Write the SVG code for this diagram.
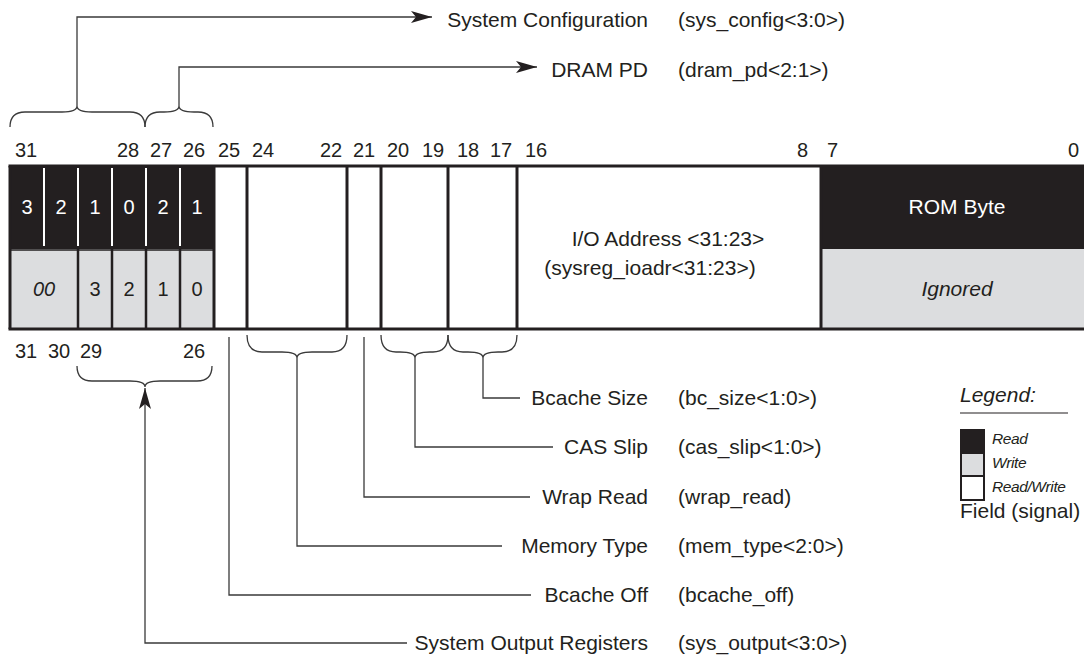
<svg xmlns="http://www.w3.org/2000/svg" width="1084" height="659" viewBox="0 0 1084 659">
<defs>
<style>
text{font-family:"Liberation Sans",Arial,sans-serif;fill:#231f20;}
.t{font-size:21px;}
.n{font-size:20px;}
.w{fill:#ffffff;}
.i{font-style:italic;}
.blk{fill:#231f20;}
.gry{fill:#dcdddf;}
.div{stroke:#231f20;stroke-width:3;fill:none;}
.wd{stroke:#ffffff;stroke-width:2;}
.gd{stroke:#231f20;stroke-width:2.5;}
.c{stroke:#3a3a3a;stroke-width:1.3;fill:none;}
.lg{font-size:15.5px;font-style:italic;letter-spacing:-0.4px;}
</style>
<marker id="ar" markerUnits="userSpaceOnUse" markerWidth="22" markerHeight="12" refX="21" refY="6" orient="auto">
<path d="M0,0 L21,6 L0,12 L5,6 Z" fill="#231f20"/>
</marker>
</defs>

<g id="register">
<rect class="blk" x="10" y="166" width="204" height="83"/>
<rect class="gry" x="10" y="249" width="204" height="80"/>
<rect class="blk" x="821" y="166" width="263" height="83"/>
<rect class="gry" x="821" y="249" width="263" height="80"/>
<g class="wd">
<line x1="44" y1="168" x2="44" y2="246"/>
<line x1="78" y1="168" x2="78" y2="246"/>
<line x1="112" y1="168" x2="112" y2="246"/>
<line x1="146" y1="168" x2="146" y2="246"/>
<line x1="180" y1="168" x2="180" y2="246"/>
</g>
<g class="gd">
<line x1="78" y1="249" x2="78" y2="329"/>
<line x1="112" y1="249" x2="112" y2="329"/>
<line x1="146" y1="249" x2="146" y2="329"/>
<line x1="180" y1="249" x2="180" y2="329"/>
<line x1="10" y1="250" x2="214" y2="250" stroke-width="1.5"/>
</g>
<g class="div">
<line x1="8.5" y1="166" x2="1084" y2="166"/>
<line x1="8.5" y1="329" x2="1084" y2="329"/>
<line x1="10" y1="166" x2="10" y2="329"/>
<line x1="214" y1="166" x2="214" y2="329"/>
<line x1="247" y1="166" x2="247" y2="329"/>
<line x1="347" y1="166" x2="347" y2="329"/>
<line x1="381" y1="166" x2="381" y2="329"/>
<line x1="448" y1="166" x2="448" y2="329"/>
<line x1="517" y1="166" x2="517" y2="329"/>
<line x1="821" y1="166" x2="821" y2="329"/>
</g>
<g class="n w" text-anchor="middle">
<text x="27" y="214" class="w">3</text>
<text x="61" y="214" class="w">2</text>
<text x="95" y="214" class="w">1</text>
<text x="129" y="214" class="w">0</text>
<text x="163" y="214" class="w">2</text>
<text x="197" y="214" class="w">1</text>
</g>
<g class="n" text-anchor="middle">
<text x="44" y="296" class="i">00</text>
<text x="95" y="296">3</text>
<text x="129" y="296">2</text>
<text x="163" y="296">1</text>
<text x="197" y="296">0</text>
</g>
<text class="t w" x="957" y="214" text-anchor="middle">ROM Byte</text>
<text class="t i" x="957" y="296" text-anchor="middle">Ignored</text>
<text class="t" x="668" y="246" text-anchor="middle">I/O Address &lt;31:23&gt;</text>
<text class="t" x="650" y="275" text-anchor="middle">(sysreg_ioadr&lt;31:23&gt;)</text>
</g>

<g id="bit-numbers" class="n">
<text x="15" y="157">31</text>
<text x="117" y="157">28</text>
<text x="150" y="157">27</text>
<text x="183" y="157">26</text>
<text x="218" y="157">25</text>
<text x="252" y="157">24</text>
<text x="320" y="157">22</text>
<text x="353" y="157">21</text>
<text x="387" y="157">20</text>
<text x="422" y="157">19</text>
<text x="457" y="157">18</text>
<text x="490" y="157">17</text>
<text x="525" y="157">16</text>
<text x="797" y="157">8</text>
<text x="827" y="157">7</text>
<text x="1068" y="157">0</text>
<text x="15" y="358">31</text>
<text x="48" y="358">30</text>
<text x="80" y="358">29</text>
<text x="183" y="358">26</text>
</g>

<g id="connectors">
<path class="c" d="M10,127 Q10,112 25,112 L62,112 Q77,112 77,106 Q77,112 92,112 L130,112 Q145,112 145,127"/>
<path class="c" d="M145,127 Q145,112 160,112 L164,112 Q179,112 179,106 Q179,112 194,112 L198,112 Q213,112 213,127"/>
<path class="c" d="M77,106 V17 H432" marker-end="url(#ar)"/>
<path class="c" d="M179,106 V67 H537" marker-end="url(#ar)"/>
<path class="c" d="M247,335 Q247,352 262,352 L282,352 Q297,352 297,358 Q297,352 312,352 L332,352 Q347,352 347,335"/>
<path class="c" d="M381,335 Q381,352 396,352 L400,352 Q415,352 415,358 Q415,352 430,352 L433,352 Q448,352 448,335"/>
<path class="c" d="M448,335 Q448,352 463,352 L468,352 Q483,352 483,358 Q483,352 498,352 L502,352 Q517,352 517,335"/>
<path class="c" d="M77,366 Q77,381 92,381 L130,381 Q145,381 145,387 Q145,381 160,381 L197,381 Q212,381 212,366"/>
<path class="c" d="M483,358 V398 H520"/>
<path class="c" d="M415,358 V447 H553"/>
<path class="c" d="M364,337 V497 H530"/>
<path class="c" d="M297,358 V546 H502"/>
<path class="c" d="M229,337 V595 H531"/>
<path class="c" d="M407,643 H145 V388" marker-end="url(#ar)"/>
</g>

<g id="labels" class="t">
<text x="648" y="27" text-anchor="end">System Configuration</text>
<text x="678" y="27">(sys_config&lt;3:0&gt;)</text>
<text x="648" y="77" text-anchor="end">DRAM PD</text>
<text x="678" y="77">(dram_pd&lt;2:1&gt;)</text>
<text x="648" y="405" text-anchor="end">Bcache Size</text>
<text x="678" y="405">(bc_size&lt;1:0&gt;)</text>
<text x="648" y="454" text-anchor="end">CAS Slip</text>
<text x="678" y="454">(cas_slip&lt;1:0&gt;)</text>
<text x="648" y="504" text-anchor="end">Wrap Read</text>
<text x="678" y="504">(wrap_read)</text>
<text x="648" y="553" text-anchor="end">Memory Type</text>
<text x="678" y="553">(mem_type&lt;2:0&gt;)</text>
<text x="648" y="602" text-anchor="end">Bcache Off</text>
<text x="678" y="602">(bcache_off)</text>
<text x="648" y="650" text-anchor="end">System Output Registers</text>
<text x="678" y="650">(sys_output&lt;3:0&gt;)</text>
</g>

<g id="legend">
<text class="t i" x="960" y="402">Legend:</text>
<line x1="960" y1="413" x2="1068" y2="413" stroke="#231f20" stroke-width="1.2"/>
<rect x="960" y="429" width="25" height="24" class="blk"/>
<rect x="961" y="453" width="23" height="23" class="gry" stroke="#231f20" stroke-width="2"/>
<rect x="961" y="476" width="23" height="24" fill="#ffffff" stroke="#231f20" stroke-width="2"/>
<text class="lg" x="992" y="444">Read</text>
<text class="lg" x="992" y="468">Write</text>
<text class="lg" x="992" y="492">Read/Write</text>
<text class="t" x="960" y="518">Field (signal)</text>
</g>
</svg>
